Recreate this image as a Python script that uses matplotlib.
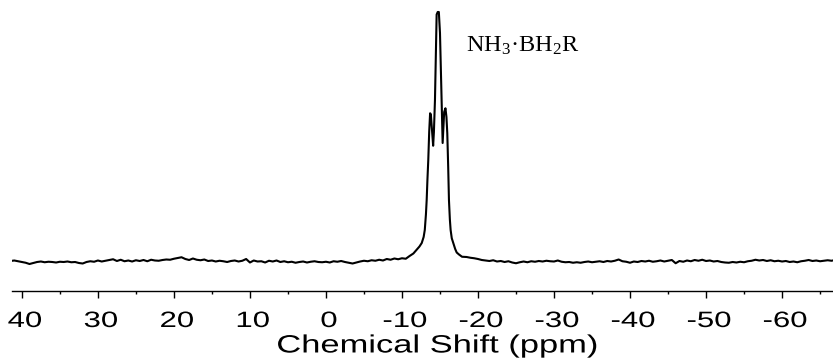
import numpy as np
import matplotlib
matplotlib.use("Agg")
import matplotlib.pyplot as plt
from matplotlib.patheffects import AbstractPathEffect
from matplotlib.transforms import Affine2D

plt.rcParams['axes.unicode_minus'] = False
plt.rcParams['mathtext.fontset'] = 'custom'
plt.rcParams['mathtext.rm'] = 'Liberation Serif'
plt.rcParams['mathtext.it'] = 'Liberation Serif'

# 11B NMR spectrum, intensity in arbitrary units (baseline ~0, main peak 1000)
# left baseline, 41.5 -> -11.0 ppm every 0.5 ppm
left_ppm = np.arange(41.5, -11.25, -0.5)
left_int = [4, 6, 3, 0, -3, -8, -4, 0, 2, -1,
            1, 0, -2, 1, 0, 2, -1, 0, -4, -6,
            0, 3, 1, 6, 2, 5, 8, 11, 4, 9,
            3, 6, 2, 7, 4, 8, 3, 9, 6, 5,
            8, 10, 9, 13, 16, 19, 12, 8, 14, 9,
            7, 10, 4, 6, 2, 5, 3, 0, 4, 6,
            2, 5, 12, -2, 6, 2, 3, -2, 5, 2,
            6, 0, 3, -1, 1, -3, 0, 2, -2, 1,
            3, 0, -1, 1, -2, 3, 1, 4, 0, -3,
            -6, -2, 2, 5, 3, 7, 5, 9, 6, 12,
            9, 14, 11, 15, 13, 24]

# NH3.BH2R peak region
peak_ppm = [-11.5, -11.9, -12.3, -12.6, -12.85, -13.0, -13.15, -13.25, -13.35, -13.46,
            -13.58, -13.7, -13.8, -13.95, -14.1, -14.2, -14.34, -14.45, -14.56, -14.7,
            -14.85, -15.0, -15.1, -15.22, -15.35, -15.45, -15.55, -15.72, -15.85, -15.96,
            -16.08, -16.18, -16.3, -16.4, -16.55, -16.75, -17.0, -17.2, -17.5, -17.9,
            -18.5, -19.0]
peak_int = [34, 48, 62, 76, 100, 128, 190, 248, 330, 408,
            520, 595, 590, 530, 465, 520, 648, 830, 990, 1000,
            1000, 916, 790, 648, 476, 540, 600, 615, 580, 515,
            380, 248, 170, 128, 95, 76, 52, 38, 30, 21,
            20, 17]

# right baseline, -19.5 -> -67.0 ppm every 0.5 ppm
right_ppm = np.arange(-19.5, -67.25, -0.5)
right_int = [15, 12, 8, 6, 4, 7, 2, 4, 0, 3,
             -2, -5, -1, 2, -1, 3, 1, 4, 2, 5,
             3, 2, 6, 1, -1, 0, -3, -1, -3, 0,
             2, -1, 1, 3, 0, 4, 2, 5, 10, 3,
             1, -3, 2, 0, 4, 2, 5, 1, 3, 6,
             2, 5, 8, -5, 4, 1, 6, 3, 8, 5,
             9, 4, 6, 2, 4, 0, -2, -3, 0, -2,
             1, -1, 3, 5, 9, 6, 8, 4, 7, 3,
             5, 2, 4, 0, 2, -1, 3, 5, 8, 4,
             6, 3, 5, 7, 5, 8]

major_ticks = [40, 30, 20, 10, 0, -10, -20, -30, -40, -50, -60]
tick_labels = ['40', '30', '20', '10', '0', '-10', '-20', '-30', '-40', '-50', '-60']
minor_ticks = [35, 25, 15, 5, -5, -15, -25, -35, -45, -55, -65]


class Stretch(AbstractPathEffect):
    """widen text horizontally about its centre (the original uses a wide font)"""
    def __init__(self, sx, dx=0.0):
        super().__init__()
        self.sx = sx
        self.dx = dx

    def draw_path(self, renderer, gc, tpath, affine, rgbFace=None):
        ext = tpath.get_extents()
        cx = (ext.x0 + ext.x1) / 2
        tr = (Affine2D().translate(-cx, 0).scale(self.sx, 1).translate(cx, 0)
              + affine + Affine2D().translate(self.dx, 0))
        renderer.draw_path(gc, tpath, tr, rgbFace)


ppm = np.concatenate([left_ppm, peak_ppm, right_ppm])
intensity = np.concatenate([left_int, peak_int, right_int])

fig = plt.figure(figsize=(8.33, 3.58), dpi=100)
ax = fig.add_axes([12 / 833, 67 / 358, 821 / 833, 291 / 358])

ax.plot(ppm, intensity, '-', color='black', lw=1.5)

ax.set_xlim(41.3, -66.7)
ax.set_ylim(-116, 1048)

for s in ['left', 'right', 'top']:
    ax.spines[s].set_visible(False)
ax.spines['bottom'].set_linewidth(1.0)
ax.set_yticks([])

ax.set_xticks(major_ticks)
ax.set_xticklabels(tick_labels, fontsize=16, family='Liberation Sans')
ax.set_xticks(minor_ticks, minor=True)
ax.tick_params(axis='x', which='major', direction='out', length=4.8, width=1.0, pad=9.6)
ax.tick_params(axis='x', which='minor', direction='out', length=2.4, width=1.0)
for lab in ax.get_xticklabels():
    lab.set_path_effects([Stretch(1.4, 3)])

ax.set_xlabel("Chemical Shift (ppm)", fontsize=18, family='Liberation Sans')
ax.xaxis.set_label_coords(0.518, -0.146)
ax.xaxis.label.set_path_effects([Stretch(1.38)])

ax.text(-18.4, 840, r'NH$_3$·BH$_2$R', fontsize=17.5, family='Liberation Serif',
        ha='left', va='baseline')

fig.savefig('out.png', dpi=100)
